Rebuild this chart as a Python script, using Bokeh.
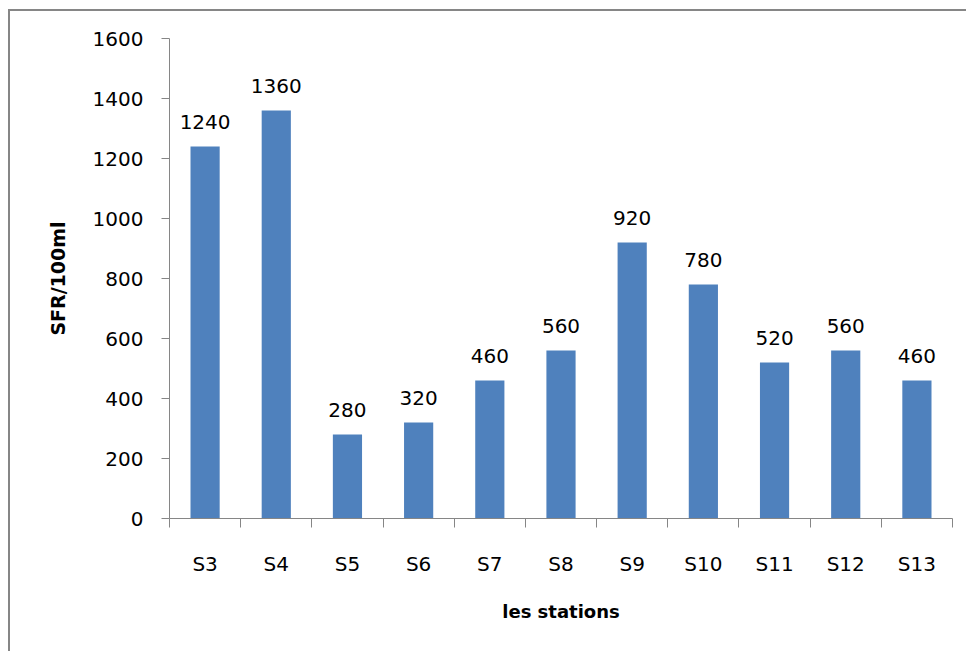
from bokeh.plotting import figure
from bokeh.models import Range1d, FixedTicker
from bokeh.core.properties import value
from bokeh.embed import file_html
from bokeh.resources import INLINE

# SFR counts per 100 ml at each sampling station
stations = ["S3", "S4", "S5", "S6", "S7", "S8", "S9", "S10", "S11", "S12", "S13"]
sfr = [1240, 1360, 280, 320, 460, 560, 920, 780, 520, 560, 460]
y_ticks = [0, 200, 400, 600, 800, 1000, 1200, 1400, 1600]

AXIS_GREY = "#868686"
BAR_BLUE = "#4F81BD"
FONT = "DejaVu Sans"

n = len(stations)
centers = [i + 0.5 for i in range(n)]

p = figure(width=958, height=642, output_backend="svg", toolbar_location=None,
           x_range=Range1d(0, n), y_range=Range1d(0, 1600),
           min_border_left=159, min_border_right=16,
           min_border_top=27, min_border_bottom=135)
p.outline_line_color = None
p.xgrid.grid_line_color = None
p.ygrid.grid_line_color = None
p.background_fill_color = "white"
p.border_fill_color = "white"
# grey frame around the chart area (left and top edges fall inside the page)
p.styles = {"border-left": f"2px solid {AXIS_GREY}",
            "border-top": f"2px solid {AXIS_GREY}",
            "margin-left": "8px", "margin-top": "9px"}

p.vbar(x=centers, top=sfr, width=0.41, fill_color=BAR_BLUE, line_color=None)

# value labels above each bar
p.text(x=centers, y=sfr, text=[str(v) for v in sfr], text_align="center",
       text_baseline="alphabetic", y_offset=-25, text_color="black",
       text_font=value(FONT), text_font_size="20px")

# x axis: labels at bar centres, tick marks on category boundaries
xa = p.xaxis[0]
xa.ticker = FixedTicker(ticks=centers, minor_ticks=list(range(n + 1)))
xa.major_label_overrides = {c: s for c, s in zip(centers, stations)}
xa.major_tick_out = 0
xa.major_tick_in = 0
xa.minor_tick_out = 9
xa.minor_tick_in = 0
xa.minor_tick_line_color = AXIS_GREY
xa.axis_line_color = AXIS_GREY
xa.major_label_standoff = 24
xa.major_label_text_font = FONT
xa.major_label_text_font_size = "20px"
xa.major_label_text_color = "black"
xa.axis_label = "les stations"
xa.axis_label_text_font = FONT
xa.axis_label_text_font_style = "bold"
xa.axis_label_text_font_size = "18px"
xa.axis_label_text_color = "black"
xa.axis_label_standoff = 22

ya = p.yaxis[0]
ya.ticker = FixedTicker(ticks=y_ticks, minor_ticks=[])
ya.major_tick_out = 8
ya.major_tick_in = 0
ya.major_tick_line_color = AXIS_GREY
ya.axis_line_color = AXIS_GREY
ya.major_label_standoff = 18
ya.major_label_text_font = FONT
ya.major_label_text_font_size = "20px"
ya.major_label_text_color = "black"
ya.axis_label = "SFR/100ml"
ya.axis_label_text_font = FONT
ya.axis_label_text_font_style = "bold"
ya.axis_label_text_font_size = "19px"
ya.axis_label_text_color = "black"
ya.axis_label_standoff = 21

open("out.html", "w").write(file_html(p, INLINE))
